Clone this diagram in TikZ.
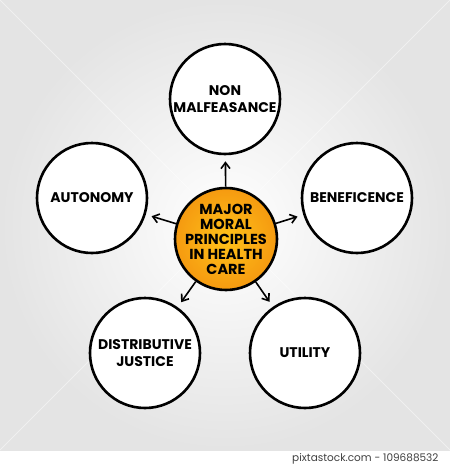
\documentclass[tikz,border=0pt]{standalone}
\usepackage{fontspec}
\setmainfont{Poppins}
\usetikzlibrary{arrows.meta}
\definecolor{bgedge}{HTML}{E4E4E4}
\definecolor{orgin}{HTML}{FFC21A}
\definecolor{orgout}{HTML}{F59A10}
\tikzset{
  principle/.style={circle, draw=black, line width=2.6pt, fill=white, minimum size=110pt, inner sep=0pt, align=center, font=\fontsize{14}{17}\selectfont\bfseries},
  hub/.style={circle, draw=black, line width=2.6pt, inner color=orgin, outer color=orgout, minimum size=102pt, inner sep=-12pt, align=center, font=\fontsize{14.5}{15}\selectfont\bfseries},
  link/.style={line width=1.6pt, -{Straight Barb[length=6pt,width=9pt,line width=1.6pt]}, shorten >=6pt},
}
\begin{document}
\begin{tikzpicture}[x=1pt,y=-1pt]
\useasboundingbox (0,0) rectangle (450,469);
\fill[white] (0,0) rectangle (450,469);
\fill[bgedge] (0,0) rectangle (450,450);
\shade[inner color=white, outer color=bgedge] (0,0) rectangle (450,450);
\foreach \a/\b in {0/0,450/0,0/450,450/450}
  \draw[white, line width=0.8pt, opacity=0.45] (\a,\b) -- (225,225);
\node[hub] (c) at (226,239) {MAJOR\\MORAL\\PRINCIPLES\\IN HEALTH\\CARE};
\node[principle] (n) at (225,99) {NON\\MALFEASANCE};
\node[principle] (a) at (92,198) {AUTONOMY};
\node[principle] (b) at (357,198) {BENEFICENCE};
\node[principle] (d) at (145,353) {DISTRIBUTIVE\\JUSTICE};
\node[principle] (u) at (305,353) {UTILITY};
\foreach \t in {n,a,b,d,u}
  \draw[link] (c) -- (\t);
\node[anchor=east, text=black!75, font=\fontsize{10.5}{12}\selectfont] (w) at (442,459) {pixtastock.com - 109688532};
\end{tikzpicture}
\end{document}
